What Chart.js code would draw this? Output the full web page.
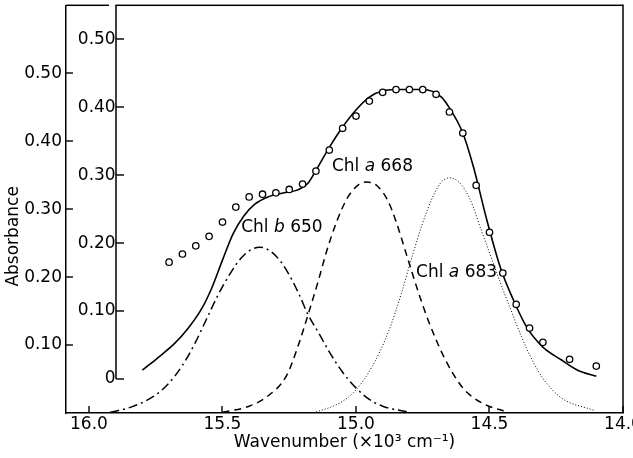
<!DOCTYPE html>
<html>
<head>
<meta charset="utf-8">
<script src="https://cdn.jsdelivr.net/npm/chart.js@4"></script>
<style>
  html, body { margin: 0; padding: 0; background: #fff; }
</style>
</head>
<body>
<canvas id="absChart" width="633" height="458"></canvas>
<script>
// measured absorbance (open circles)
const measX = [15.70, 15.65, 15.60, 15.55, 15.50, 15.45, 15.40, 15.35, 15.30, 15.25, 15.20, 15.15, 15.10, 15.05, 15.00, 14.95,
               14.90, 14.85, 14.80, 14.75, 14.70, 14.65, 14.60, 14.55, 14.50, 14.45, 14.40, 14.35, 14.30, 14.20, 14.10];
const measY = [0.222, 0.234, 0.246, 0.260, 0.281, 0.303, 0.318, 0.322, 0.324, 0.329, 0.337, 0.356, 0.387, 0.419, 0.437, 0.459,
               0.472, 0.476, 0.476, 0.476, 0.469, 0.443, 0.412, 0.335, 0.266, 0.206, 0.160, 0.125, 0.104, 0.079, 0.069];

// sum of components (solid)
const fitX = [15.80, 15.74, 15.68, 15.63, 15.58, 15.54, 15.50, 15.46, 15.42, 15.38, 15.33, 15.27, 15.22, 15.18, 15.15, 15.10,
              15.05, 15.00, 14.95, 14.90, 14.83, 14.75, 14.68, 14.65, 14.60, 14.56, 14.51, 14.46, 14.41, 14.36, 14.30,
              14.23, 14.17, 14.10];
const fitY = [0.063, 0.082, 0.102, 0.124, 0.152, 0.184, 0.225, 0.264, 0.290, 0.307, 0.318, 0.324, 0.328, 0.338, 0.357, 0.391,
              0.421, 0.446, 0.465, 0.474, 0.476, 0.476, 0.465, 0.449, 0.412, 0.362, 0.284, 0.215, 0.166, 0.126, 0.097,
              0.078, 0.063, 0.054];

// Chl b 650 component (dash-dot)
const chlb650X = [15.92, 15.84, 15.76, 15.71, 15.65, 15.60, 15.56, 15.52, 15.47, 15.43, 15.39, 15.36, 15.32, 15.28, 15.24,
                  15.21, 15.18, 15.14, 15.10, 15.05, 15.00, 14.95, 14.90, 14.80];
const chlb650Y = [0.001, 0.009, 0.024, 0.040, 0.070, 0.105, 0.138, 0.171, 0.206, 0.228, 0.241, 0.244, 0.238, 0.222, 0.196,
                  0.172, 0.145, 0.118, 0.090, 0.060, 0.037, 0.020, 0.010, 0.001];

// Chl a 668 component (dashed)
const chla668X = [15.50, 15.40, 15.33, 15.26, 15.22, 15.18, 15.14, 15.11, 15.07, 15.03, 14.99, 14.96, 14.92, 14.88, 14.85,
                  14.81, 14.77, 14.73, 14.67, 14.60, 14.53, 14.43];
const chla668Y = [0.001, 0.010, 0.025, 0.055, 0.095, 0.144, 0.196, 0.238, 0.284, 0.318, 0.336, 0.340, 0.334, 0.312, 0.282,
                  0.232, 0.182, 0.137, 0.082, 0.037, 0.015, 0.001];

// Chl a 683 component (dotted)
const chla683X = [15.16, 15.06, 15.00, 14.94, 14.88, 14.83, 14.79, 14.75, 14.71, 14.68, 14.65, 14.61, 14.57, 14.53, 14.49,
                  14.45, 14.42, 14.38, 14.34, 14.30, 14.23, 14.11];
const chla683Y = [0.000, 0.015, 0.034, 0.068, 0.118, 0.176, 0.230, 0.280, 0.320, 0.340, 0.346, 0.338, 0.312, 0.268, 0.225,
                  0.182, 0.152, 0.112, 0.078, 0.051, 0.022, 0.004];

// ticks
const xTickVals = [16.0, 15.5, 15.0, 14.5, 14.0];
const xTickLabels = ['16.0', '15.5', '15.0', '14.5', '14.0'];
const outerTickVals = [0.1, 0.2, 0.3, 0.4, 0.5];
const outerTickLabels = ['0.10', '0.20', '0.30', '0.40', '0.50'];
const innerTickVals = [0, 0.1, 0.2, 0.3, 0.4, 0.5];
const innerTickLabels = ['0', '0.10', '0.20', '0.30', '0.40', '0.50'];

const innerAxisAt = 15.9;
const FONT = 'DejaVu Sans';

// curve labels: [normal, italic, normal]
const curveLabels = [
    { parts: ['Chl ', 'b', ' 650'], x: 15.43, y: 0.266 },
    { parts: ['Chl ', 'a', ' 668'], x: 15.09, y: 0.356 },
    { parts: ['Chl ', 'a', ' 683'], x: 14.775, y: 0.200 }
];

function pts(xs, ys) {
    return xs.map((x, i) => ({ x: x, y: ys[i] }));
}

// frame pieces, inward tick marks and text that Chart.js has no option for
const extras = {
    id: 'extras',
    afterDraw(chart) {
        const ctx = chart.ctx;
        const area = chart.chartArea;
        const xs = chart.scales.x;
        const ys = chart.scales.y;
        const yIn = chart.scales.yInner;
        const ix = Math.round(xs.getPixelForValue(innerAxisAt));
        ctx.save();
        ctx.setLineDash([]);
        ctx.fillStyle = '#000';
        // top line (broken just left of the inner axis), right side, inner axis
        ctx.fillRect(area.left, area.top - 0.75, ix - 7 - area.left, 1.5);
        ctx.fillRect(ix - 0.75, area.top - 0.75, area.right - ix + 0.75, 1.5);
        ctx.fillRect(area.right - 0.75, area.top - 0.75, 1.5, area.bottom - area.top + 0.75);
        ctx.fillRect(ix - 0.75, area.top, 1.5, yIn.getPixelForValue(0) - area.top);

        // inward tick marks
        xTickVals.forEach(v => {
            ctx.fillRect(Math.round(xs.getPixelForValue(v)) - 0.7, area.bottom - 7, 1.4, 7);
        });
        outerTickVals.forEach(v => {
            ctx.fillRect(area.left, Math.round(ys.getPixelForValue(v)) - 0.7, 7, 1.4);
        });
        innerTickVals.forEach(v => {
            ctx.fillRect(ix, Math.round(yIn.getPixelForValue(v)) - 0.7, 8, 1.4);
        });

        ctx.textBaseline = 'alphabetic';
        ctx.textAlign = 'left';
        curveLabels.forEach(l => {
            let px = xs.getPixelForValue(l.x);
            const py = ys.getPixelForValue(l.y);
            l.parts.forEach((p, i) => {
                ctx.font = (i === 1 ? 'italic ' : '') + '17px "' + FONT + '"';
                ctx.fillText(p, px, py);
                px += ctx.measureText(p).width;
            });
        });

        ctx.translate(area.left - 52, ys.getPixelForValue(0.26));
        ctx.rotate(-Math.PI / 2);
        ctx.textAlign = 'center';
        ctx.textBaseline = 'middle';
        ctx.font = '17px "' + FONT + '"';
        ctx.fillText('Absorbance', 0, 0);
        ctx.restore();
    }
};

const tickFont = { family: FONT, size: 17 };

new Chart(document.getElementById('absChart'), {
    type: 'line',
    data: {
        datasets: [
            {
                label: 'measured',
                data: pts(measX, measY),
                showLine: false,
                pointStyle: 'circle',
                pointRadius: 3.2,
                pointBorderWidth: 1.3,
                pointBorderColor: '#000',
                pointBackgroundColor: '#fff'
            },
            {
                label: 'sum',
                data: pts(fitX, fitY),
                borderColor: '#000',
                borderWidth: 1.6,
                pointRadius: 0,
                cubicInterpolationMode: 'monotone'
            },
            {
                label: 'Chl b 650',
                data: pts(chlb650X, chlb650Y),
                borderColor: '#000',
                borderWidth: 1.5,
                borderDash: [9, 4, 2, 4],
                pointRadius: 0,
                cubicInterpolationMode: 'monotone'
            },
            {
                label: 'Chl a 668',
                data: pts(chla668X, chla668Y),
                borderColor: '#000',
                borderWidth: 1.5,
                borderDash: [7, 5],
                pointRadius: 0,
                cubicInterpolationMode: 'monotone'
            },
            {
                label: 'Chl a 683',
                data: pts(chla683X, chla683Y),
                borderColor: '#000',
                borderWidth: 1,
                borderDash: [1, 2],
                pointRadius: 0,
                cubicInterpolationMode: 'monotone'
            }
        ]
    },
    options: {
        responsive: false,
        animation: false,
        layout: { padding: { top: 5, right: 10, left: 0, bottom: 0 } },
        plugins: {
            legend: { display: false },
            tooltip: { enabled: false }
        },
        scales: {
            x: {
                type: 'linear',
                reverse: true,
                min: 14.0,
                max: 16.086,
                position: 'bottom',
                afterBuildTicks: s => { s.ticks = xTickVals.map(v => ({ value: v })); },
                afterFit: s => { s.height = 45; s.paddingLeft = 0; s.paddingRight = 0; },
                ticks: {
                    callback: (v, i) => xTickLabels[i],
                    padding: 1,
                    color: '#000',
                    font: tickFont,
                    maxRotation: 0,
                    autoSkip: false
                },
                grid: { display: false, drawTicks: false },
                border: { display: true, color: '#000', width: 1.5 },
                title: {
                    display: true,
                    text: 'Wavenumber (×10³ cm⁻¹)',
                    color: '#000',
                    font: tickFont,
                    padding: { top: 0, bottom: 5 }
                }
            },
            y: {
                type: 'linear',
                min: 0,
                max: 0.6,
                position: 'left',
                afterBuildTicks: s => { s.ticks = outerTickVals.map(v => ({ value: v })); },
                afterFit: s => { s.width = 66; s.paddingTop = 0; s.paddingBottom = 0; },
                ticks: {
                    callback: (v, i) => outerTickLabels[i],
                    padding: 4,
                    color: '#000',
                    font: tickFont
                },
                grid: { display: false, drawTicks: false },
                border: { display: true, color: '#000', width: 1.5 }
            },
            yInner: {
                type: 'linear',
                min: -0.05,
                max: 0.55,
                position: { x: innerAxisAt },
                afterBuildTicks: s => { s.ticks = innerTickVals.map(v => ({ value: v })); },
                afterFit: s => { s.paddingTop = 0; s.paddingBottom = 0; },
                ticks: {
                    callback: (v, i) => innerTickLabels[i],
                    padding: 2,
                    color: '#000',
                    font: tickFont
                },
                grid: { display: false, drawTicks: false },
                border: { display: false }
            }
        }
    },
    plugins: [extras]
});
</script>
</body>
</html>
